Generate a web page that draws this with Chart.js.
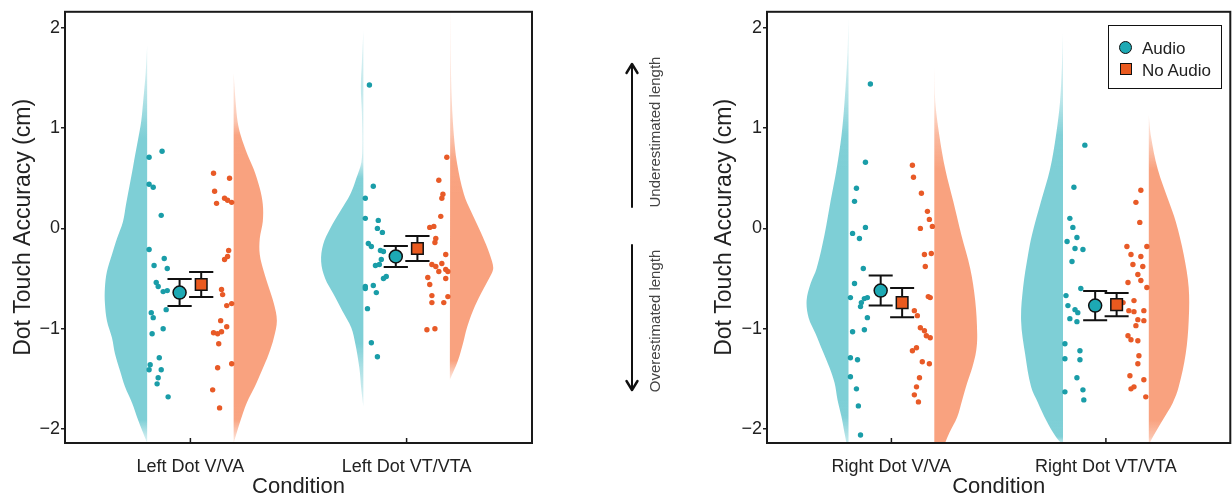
<!DOCTYPE html>
<html>
<head>
<meta charset="utf-8">
<script src="https://cdn.jsdelivr.net/npm/chart.js@4.4.1/dist/chart.umd.min.js"></script>
<style>
html,body{margin:0;padding:0;background:#fff;overflow:hidden;}
#wrap{position:relative;width:1232px;height:499px;overflow:hidden;background:#fff;font-family:'Liberation Sans',Arial,Helvetica,sans-serif;}
#c1{position:absolute;left:0;top:0;}
#c2{position:absolute;left:700px;top:0;}
#over{position:absolute;left:0;top:0;pointer-events:none;}
.vt{position:absolute;transform:translate(-50%,-50%) rotate(-90deg);white-space:nowrap;line-height:1;font-size:15px;color:#444;}
#legend{position:absolute;left:1108px;top:25px;width:114px;height:64px;box-sizing:border-box;border:1.6px solid #111;background:#fff;}
#legend .mk{position:absolute;box-sizing:border-box;border:1.4px solid #111;}
#legend .tx{position:absolute;font-size:17px;line-height:1;color:#222;white-space:nowrap;}
</style>
</head>
<body>
<div id="wrap">
  <canvas id="c1" width="545" height="499"></canvas>
  <canvas id="c2" width="540" height="499"></canvas>
  <svg id="over" width="1232" height="499">
    <g stroke="#111" stroke-width="2" fill="none" stroke-linecap="round" stroke-linejoin="round">
      <line x1="632" y1="207" x2="632" y2="65"/>
      <polyline points="626.5,73 632,64 637.5,73" stroke-width="2.4"/>
      <line x1="632" y1="245" x2="632" y2="389"/>
      <polyline points="626.5,381 632,390 637.5,381" stroke-width="2.4"/>
    </g>
  </svg>
  <div class="vt" style="left:654px;top:132px;">Underestimated length</div>
  <div class="vt" style="left:654px;top:321px;">Overestimated length</div>
  <div id="legend">
    <div class="mk" style="left:10px;top:15px;width:13px;height:13px;border-radius:50%;background:#1DA9B4;"></div>
    <div class="tx" style="left:33px;top:14px;">Audio</div>
    <div class="mk" style="left:11px;top:37px;width:12px;height:12px;background:#EA5A1F;"></div>
    <div class="tx" style="left:33px;top:36px;">No Audio</div>
  </div>
</div>
<script>
// ---------- categories & ticks ----------
const leftCategories = ['Left Dot V/VA', 'Left Dot VT/VTA'];
const rightCategories = ['Right Dot V/VA', 'Right Dot VT/VTA'];
const categoryPositions = [1, 2];
const yTickValues = [-2, -1, 0, 1, 2];
const yTickLabels = ['\u22122', '\u22121', '0', '1', '2'];
const seriesNames = ['Audio', 'No Audio'];

// ---------- means and standard errors (Audio, No Audio) per condition ----------
const leftAudioMean = [-0.64, -0.28];
const leftAudioSE = [0.135, 0.105];
const leftNoAudioMean = [-0.56, -0.20];
const leftNoAudioSE = [0.125, 0.125];
const rightAudioMean = [-0.62, -0.77];
const rightAudioSE = [0.15, 0.145];
const rightNoAudioMean = [-0.74, -0.76];
const rightNoAudioSE = [0.145, 0.115];

// ---------- violin (half) density profiles: y values and relative density ----------
const violinY_LVA_audio = [1.83,1.55,1.26,1.06,0.89,0.73,0.56,0.40,0.24,0.07,-0.10,-0.26,-0.43,-0.59,-0.75,-0.92,-1.09,-1.25,-1.42,-1.58,-1.74,-1.91,-2.14];
const violinD_LVA_audio = [0,1.5,4,6,9,12,15,18,21,24,30,35,40,42,42,40,35,32,27,22,15,9,0];
const violinY_LVA_noaudio = [1.55,1.26,1.06,0.93,0.73,0.59,0.40,0.24,0.07,-0.10,-0.26,-0.43,-0.59,-0.75,-0.92,-1.09,-1.25,-1.42,-1.58,-1.74,-1.91,-2.14];
const violinD_LVA_noaudio = [0,2,4,7,14,20,26,29,29,26,26,30,35,40,43,40,35,28,21,13,7,0];
const violinY_LVT_audio = [1.97,1.65,1.41,1.16,0.86,0.66,0.50,0.34,0.17,0,-0.16,-0.33,-0.50,-0.65,-0.82,-0.99,-1.15,-1.39,-1.61,-1.78];
const violinD_LVT_audio = [0,1.5,2.5,1.5,1,2,7,13,23,33,40,42,38,30,21,12,8,4,2,0];
const violinY_LVT_noaudio = [2.25,1.65,1.26,0.93,0.66,0.34,0.17,0,-0.16,-0.33,-0.41,-0.50,-0.65,-0.82,-0.99,-1.15,-1.32,-1.51];
const violinD_LVT_noaudio = [0.5,1,2,4,7,14,21,29,36,42,43,39,31,23,17,13,8,0];
const violinY_RVA_audio = [2.10,1.75,1.26,0.93,0.59,0.27,-0.06,-0.40,-0.55,-0.72,-0.89,-1.05,-1.22,-1.39,-1.54,-1.71,-1.88,-2.04,-2.25];
const violinD_RVA_audio = [0,1,4,7,12,18,24,32,38,42,40,33,26,19,14,11,7,4,0];
const violinY_RVA_noaudio = [1.62,1.26,0.93,0.59,0.27,-0.06,-0.40,-0.72,-1.05,-1.22,-1.39,-1.54,-1.71,-1.88,-2.04,-2.21,-2.40];
const violinD_RVA_noaudio = [0,1,5,11,19,27,36,41,43,42,38,33,28,23,15,8,0];
const violinY_RVT_audio = [1.95,1.65,1.26,0.93,0.59,0.27,-0.06,-0.26,-0.59,-0.92,-1.25,-1.58,-1.74,-1.91,-2.08,-2.16];
const violinD_RVT_audio = [0,1,3,7,13,22,31,35,40,42,38,32,25,17,7,0];
const violinY_RVT_noaudio = [1.13,0.93,0.59,0.27,0.07,-0.26,-0.59,-0.92,-1.25,-1.58,-1.74,-1.91,-2.08,-2.16];
const violinD_RVT_noaudio = [0,2,9,20,27,35,40,40,37,30,24,14,4,0];

// ---------- raw participant values and horizontal jitter (x units) ----------
const dotsY_LVA_audio = [0.71,0.77,0.44,0.41,0.13,-0.21,-0.30,-0.37,-0.40,-0.54,-0.58,-0.63,-0.62,-0.81,-0.84,-0.89,-1.00,-1.05,-1.29,-1.36,-1.41,-1.41,-1.49,-1.55,-1.68];
const dotsJ_LVA_audio = [.009,.069,.009,.028,.065,.009,.079,.032,.093,.042,.051,.074,.093,.088,.019,.028,.074,.023,.056,.014,.009,.065,.051,.046,.097];
const dotsY_LVA_noaudio = [0.55,0.50,0.37,0.25,0.30,0.28,0.26,-0.22,-0.28,-0.31,-0.61,-0.66,-0.77,-0.75,-0.92,-0.98,-1.04,-1.05,-1.03,-1.15,-1.35,-1.39,-1.61,-1.79];
const dotsJ_LVA_noaudio = [.093,.019,.088,.079,.042,.028,.009,.023,.028,.042,.056,.051,.032,.009,.060,.032,.093,.074,.056,.069,.009,.074,.097,.065];
const dotsY_LVT_audio = [1.43,0.42,0.30,0.10,0.08,0.00,-0.04,-0.15,-0.18,-0.22,-0.23,-0.31,-0.37,-0.36,-0.50,-0.48,-0.58,-0.57,-0.60,-0.64,-0.80,-1.14,-1.28];
const dotsJ_LVT_audio = [.028,.046,.009,.009,.069,.065,.088,.023,.037,.079,.093,.083,.056,.074,.093,.106,.009,.046,.009,.060,.019,.037,.065];
const dotsY_LVT_noaudio = [0.71,0.48,0.34,0.30,0.12,0.01,0.02,-0.10,-0.14,-0.26,-0.36,-0.38,-0.35,-0.43,-0.41,-0.43,-0.49,-0.50,-0.56,-0.67,-0.68,-0.74,-0.74,-1.01,-1.00];
const dotsJ_LVT_noaudio = [.014,.051,.032,.037,.042,.093,.074,.065,.069,.019,.083,.065,.037,.051,.019,.009,.102,.019,.093,.083,.009,.083,.028,.106,.069];
const dotsY_RVA_audio = [1.44,0.66,0.40,0.27,0.01,-0.05,-0.10,-0.40,-0.55,-0.69,-0.74,-0.70,-0.69,-0.78,-0.89,-1.03,-1.01,-1.29,-1.31,-1.48,-1.60,-1.77,-2.06];
const dotsJ_RVA_audio = [.102,.079,.037,.028,.079,.019,.051,.069,.028,.009,.060,.074,.088,.056,.088,.019,.074,.009,.042,.009,.037,.046,.056];
const dotsY_RVA_noaudio = [0.63,0.51,0.35,0.17,0.09,0.00,0.02,-0.26,-0.25,-0.38,-0.68,-0.69,-0.82,-0.87,-0.99,-1.02,-1.07,-1.09,-1.22,-1.19,-1.33,-1.35,-1.49,-1.58,-1.66,-1.73];
const dotsJ_RVA_noaudio = [.102,.097,.060,.032,.023,.065,.009,.046,.014,.042,.028,.019,.093,.079,.065,.046,.037,.019,.102,.083,.056,.023,.069,.083,.093,.074];
const dotsY_RVT_audio = [0.83,0.41,0.10,0.01,-0.13,-0.09,-0.20,-0.21,-0.33,-0.60,-0.67,-0.77,-0.81,-0.84,-0.90,-0.93,-1.15,-1.22,-1.30,-1.31,-1.49,-1.63,-1.61,-1.71];
const dotsJ_RVT_audio = [.102,.051,.032,.046,.019,.065,.056,.093,.042,.083,.014,.023,.056,.069,.032,.065,.009,.079,.009,.079,.065,.009,.093,.097];
const dotsY_RVT_noaudio = [0.38,0.26,0.06,-0.18,-0.18,-0.26,-0.28,-0.36,-0.38,-0.46,-0.54,-0.52,-0.59,-0.72,-0.74,-0.82,-0.83,-0.82,-0.91,-0.92,-0.97,-1.07,-1.11,-1.12,-1.27,-1.35,-1.47,-1.51,-1.58,-1.60,-1.68];
const dotsJ_RVT_noaudio = [.037,.060,.042,.102,.009,.083,.037,.074,.028,.051,.097,.037,.009,.069,.120,.093,.069,.023,.051,.023,.060,.097,.083,.051,.046,.051,.088,.023,.069,.083,.014];

// ---------- styling ----------
const FONT = "'Liberation Sans', Arial, Helvetica, sans-serif";
const TEXT = '#222';
const STYLE = {
  audio:   {violin: [126, 207, 214], dot: '#1A9DA8', mean: '#1DA9B4', marker: 'circle', radius: 6.5},
  noaudio: {violin: [249, 162, 127], dot: '#E85A27', mean: '#EA5A1F', marker: 'rect', radius: 8.2}
};
const EDGE_OFFSET = 0.2;       // distance of violin flat edge from category centre
const MEAN_OFFSET = 0.05;      // distance of mean marker from category centre
const VIOLIN_SCALE = 0.2 / 43; // relative density -> x units
const CAP_HALF = 0.056;        // error bar cap half width (x units)

// thin parts of the violins look faded in the original: alpha follows density
function violinFill(vy, vd, rgb) {
  return (context) => {
    const chart = context.chart;
    const ys = chart.scales && chart.scales.y;
    if (!ys || !chart.chartArea) return `rgb(${rgb.join(',')})`;
    const p0 = ys.getPixelForValue(vy[0]);
    const p1 = ys.getPixelForValue(vy[vy.length - 1]);
    if (!isFinite(p0) || !isFinite(p1) || p1 === p0) return `rgb(${rgb.join(',')})`;
    const g = chart.ctx.createLinearGradient(0, p0, 0, p1);
    vy.forEach((y, i) => {
      const t = (ys.getPixelForValue(y) - p0) / (p1 - p0);
      const a = Math.min(1, 0.2 + vd[i] / 9);
      g.addColorStop(Math.max(0, Math.min(1, t)), `rgba(${rgb.join(',')},${a.toFixed(3)})`);
    });
    return g;
  };
}
function violinDataset(center, side, vy, vd, rgb) {
  const edge = center + side * EDGE_OFFSET;
  return {
    data: vy.map((y, i) => ({x: edge + side * vd[i] * VIOLIN_SCALE, y})),
    showLine: true, fill: 'shape', backgroundColor: violinFill(vy, vd, rgb), borderWidth: 0,
    pointRadius: 0, tension: 0.35, order: 5
  };
}
function dotsDataset(center, side, dy, dj, color) {
  const edge = center + side * EDGE_OFFSET;
  return {
    data: dy.map((y, i) => ({x: edge - side * dj[i], y})),
    pointRadius: 2.7, pointBorderWidth: 0, backgroundColor: color, borderColor: color, order: 3
  };
}
function errorDataset(side, means, ses) {
  const data = [];
  means.forEach((m, i) => {
    const xm = categoryPositions[i] + side * MEAN_OFFSET;
    const lo = m - ses[i], hi = m + ses[i];
    data.push({x: xm, y: lo}, {x: xm, y: hi}, {x: xm, y: null},
              {x: xm - CAP_HALF, y: hi}, {x: xm + CAP_HALF, y: hi}, {x: xm, y: null},
              {x: xm - CAP_HALF, y: lo}, {x: xm + CAP_HALF, y: lo}, {x: xm, y: null});
  });
  return {data, showLine: true, spanGaps: false, borderColor: '#111', borderWidth: 2,
          pointRadius: 0, fill: false, tension: 0, order: 1};
}
function meanDataset(side, means, st, label) {
  return {
    label,
    data: means.map((m, i) => ({x: categoryPositions[i] + side * MEAN_OFFSET, y: m})),
    pointStyle: st.marker, pointRadius: st.radius, backgroundColor: st.mean,
    borderColor: '#111', borderWidth: 1.5, order: 0
  };
}

const framePlugin = {
  id: 'frame',
  afterDatasetsDraw(chart) {
    const {ctx, chartArea: a, scales: {x}} = chart;
    ctx.save();
    ctx.strokeStyle = '#1a1a1a';
    ctx.lineWidth = 2;
    ctx.strokeRect(a.left, a.top, a.right - a.left, a.bottom - a.top);
    ctx.lineWidth = 1.5;
    categoryPositions.forEach(v => {
      const px = x.getPixelForValue(v);
      ctx.beginPath(); ctx.moveTo(px, a.bottom); ctx.lineTo(px, a.bottom - 5); ctx.stroke();
    });
    ctx.restore();
  }
};

function makeChart(canvasId, cats, groups, means, yAxisWidth, titlePad, rightPad) {
  const datasets = [];
  groups.forEach((g, i) => {
    const c = categoryPositions[i];
    datasets.push(violinDataset(c, -1, g.aVY, g.aVD, STYLE.audio.violin));
    datasets.push(violinDataset(c, 1, g.nVY, g.nVD, STYLE.noaudio.violin));
    datasets.push(dotsDataset(c, -1, g.aDY, g.aDJ, STYLE.audio.dot));
    datasets.push(dotsDataset(c, 1, g.nDY, g.nDJ, STYLE.noaudio.dot));
  });
  datasets.push(errorDataset(-1, means.aM, means.aSE));
  datasets.push(errorDataset(1, means.nM, means.nSE));
  datasets.push(meanDataset(-1, means.aM, STYLE.audio, seriesNames[0]));
  datasets.push(meanDataset(1, means.nM, STYLE.noaudio, seriesNames[1]));

  return new Chart(document.getElementById(canvasId), {
    type: 'scatter',
    data: {datasets},
    plugins: [framePlugin],
    options: {
      responsive: false, animation: false, devicePixelRatio: 1,
      layout: {padding: {left: 0, right: rightPad, top: 9, bottom: 0}},
      plugins: {legend: {display: false}, tooltip: {enabled: false}},
      scales: {
        x: {
          type: 'linear', min: 0.42, max: 2.58,
          afterFit(s) { s.height = 56; },
          afterBuildTicks(s) { s.ticks = categoryPositions.map(v => ({value: v})); },
          grid: {display: false}, border: {display: false},
          ticks: {
            callback: v => cats[categoryPositions.indexOf(v)] || '',
            padding: 5, maxRotation: 0, autoSkip: false, color: TEXT,
            font: {family: FONT, size: 18}
          },
          title: {display: true, text: 'Condition', color: TEXT,
                  font: {family: FONT, size: 22, lineHeight: 1}, padding: {top: 0, bottom: 1}}
        },
        y: {
          type: 'linear', min: -2.14, max: 2.16,
          afterFit(s) { s.width = yAxisWidth; },
          afterBuildTicks(s) { s.ticks = yTickValues.map(v => ({value: v})); },
          grid: {display: true, drawOnChartArea: false, drawTicks: true, tickLength: 4,
                 color: '#222', lineWidth: 1.5},
          border: {display: false},
          ticks: {
            callback: v => yTickLabels[yTickValues.indexOf(v)],
            padding: 1, color: TEXT, font: {family: FONT, size: 18}
          },
          title: {display: true, text: 'Dot Touch Accuracy (cm)', color: TEXT,
                  font: {family: FONT, size: 23}, padding: {top: titlePad, bottom: 0}}
        }
      }
    }
  });
}

makeChart('c1', leftCategories, [
  {aVY: violinY_LVA_audio, aVD: violinD_LVA_audio, nVY: violinY_LVA_noaudio, nVD: violinD_LVA_noaudio,
   aDY: dotsY_LVA_audio, aDJ: dotsJ_LVA_audio, nDY: dotsY_LVA_noaudio, nDJ: dotsJ_LVA_noaudio},
  {aVY: violinY_LVT_audio, aVD: violinD_LVT_audio, nVY: violinY_LVT_noaudio, nVD: violinD_LVT_noaudio,
   aDY: dotsY_LVT_audio, aDJ: dotsJ_LVT_audio, nDY: dotsY_LVT_noaudio, nDJ: dotsJ_LVT_noaudio}
], {aM: leftAudioMean, aSE: leftAudioSE, nM: leftNoAudioMean, nSE: leftNoAudioSE}, 65, 10, 13);

makeChart('c2', rightCategories, [
  {aVY: violinY_RVA_audio, aVD: violinD_RVA_audio, nVY: violinY_RVA_noaudio, nVD: violinD_RVA_noaudio,
   aDY: dotsY_RVA_audio, aDJ: dotsJ_RVA_audio, nDY: dotsY_RVA_noaudio, nDJ: dotsJ_RVA_noaudio},
  {aVY: violinY_RVT_audio, aVD: violinD_RVT_audio, nVY: violinY_RVT_noaudio, nVD: violinD_RVT_noaudio,
   aDY: dotsY_RVT_audio, aDJ: dotsJ_RVT_audio, nDY: dotsY_RVT_noaudio, nDJ: dotsJ_RVT_noaudio}
], {aM: rightAudioMean, aSE: rightAudioSE, nM: rightNoAudioMean, nSE: rightNoAudioSE}, 67, 11, 6);
</script>
</body>
</html>
